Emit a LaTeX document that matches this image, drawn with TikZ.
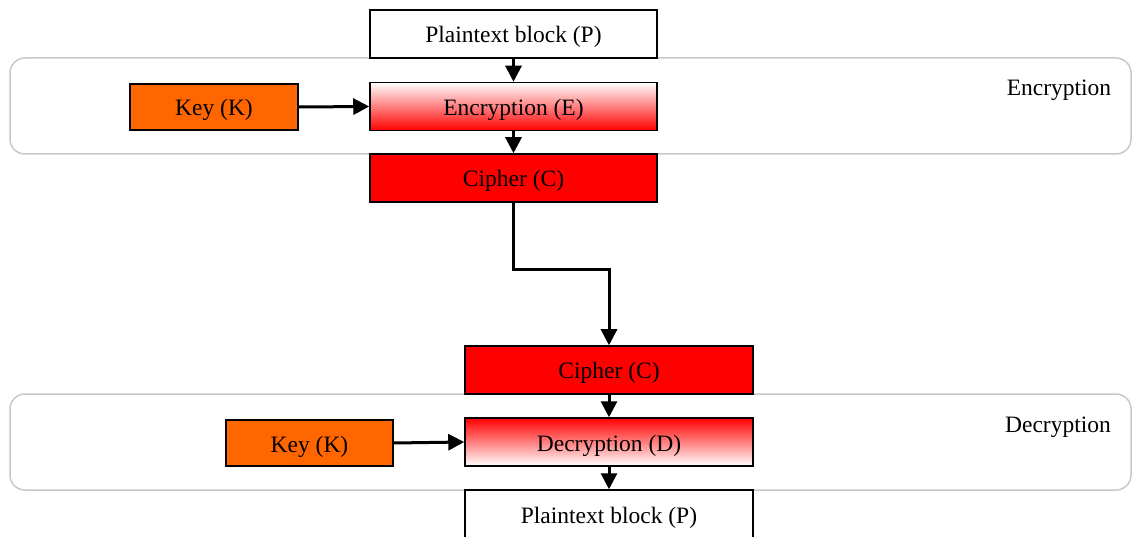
\documentclass[tikz,border=0pt]{standalone}
\usepackage{fontspec}
\setmainfont{Liberation Serif}
\usetikzlibrary{arrows.meta}
\definecolor{keyorange}{HTML}{FF6600}
\definecolor{cred}{HTML}{FF0000}
\definecolor{grpgray}{HTML}{C8C8C8}
\tikzset{
  blk/.style={draw=black, line width=1.5pt, minimum width=287pt, minimum height=48pt, inner sep=0pt, text height=18pt, text depth=0pt, font=\fontsize{23.5}{28}\selectfont},
  keybox/.style={blk, fill=keyorange, minimum width=168pt, minimum height=46pt},
  cipherbox/.style={blk, fill=cred},
  encbox/.style={blk, top color=white, bottom color=cred},
  decbox/.style={blk, top color=cred, bottom color=white},
  grp/.style={draw=grpgray, line width=1.5pt, rounded corners=15pt},
  grplabel/.style={inner sep=0pt, text height=18pt, text depth=0pt, font=\fontsize{23.5}{28}\selectfont},
  conn/.style={line width=3pt, -{Triangle[width=16pt,length=16pt]}},
}
\begin{document}
\begin{tikzpicture}[x=1pt,y=-1pt]
\useasboundingbox (0,0) rectangle (1133,537);
\clip (0,0) rectangle (1133,537);
% groups
\draw[grp] (10,58) rectangle (1131,154);
\draw[grp] (10,394) rectangle (1131,490);
\node[grplabel] (lenc) at (1059,87) {Encryption};
\node[grplabel] (ldec) at (1058,423) {Decryption};
% nodes
\node[blk, fill=white] (p1) at (513.5,34) {Plaintext block (P)};
\node[encbox] (enc) at (513.5,106.5) {Encryption (E)};
\node[keybox] (k1) at (214,107) {Key (K)};
\node[cipherbox] (c1) at (513.5,178) {Cipher (C)};
\node[cipherbox, minimum width=288pt] (c2) at (609,370) {Cipher (C)};
\node[decbox, minimum width=288pt] (dec) at (609,442) {Decryption (D)};
\node[keybox, minimum width=167pt] (k2) at (309.5,443) {Key (K)};
\node[blk, fill=white, minimum width=288pt] (p2) at (609,514) {Plaintext block (P)};
% connectors
\coordinate (bend) at (513.5,270);
\draw[conn] (p1.south) -- (enc.north);
\draw[conn] (k1.east) -- (enc.west);
\draw[conn] (enc.south) -- (c1.north);
\draw[conn] (c1.south) -- (bend) -| (c2.north);
\draw[conn] (c2.south) -- (dec.north);
\draw[conn] (k2.east) -- (dec.west);
\draw[conn] (dec.south) -- (p2.north);
\end{tikzpicture}
\end{document}
